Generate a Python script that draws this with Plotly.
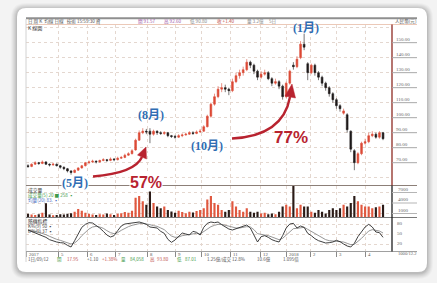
import plotly.graph_objects as go

W, H = 437, 283

# ---------------- data ----------------
opens = [68, 67.5, 69, 70, 69.5, 70.5, 69, 68.5, 69, 68,
         67, 66, 64.5, 63.5, 65, 66.5, 68, 70, 70.5, 71,
         70.5, 71.5, 72, 71.5, 72.5, 72, 73, 73.5, 75, 76,
         78.5, 85, 90, 91, 91, 89, 91, 90, 89.5, 90,
         88, 87.5, 87, 88, 88.5, 89, 90, 89.5, 90.5, 91,
         94, 101, 109, 114, 119, 120, 119, 118, 124, 128,
         130, 132, 137, 135, 131, 127, 129, 130, 126, 123,
         124, 121, 114, 123, 135, 134, 140, 149, 136, 130,
         135, 130, 127, 123, 120, 116, 112, 108, 103, 102,
         91, 78, 70, 76, 83, 84, 88, 89, 87, 90]
closes = [67.5, 69, 70, 69.5, 70.5, 69, 68.5, 69, 68, 67,
          66, 64.5, 63.5, 65, 66.5, 68, 70, 70.5, 71, 70.5,
          71.5, 72, 71.5, 72.5, 72, 73, 73.5, 75, 76, 78,
          85, 90, 91, 90.5, 89, 91, 90, 89.5, 90, 88,
          87.5, 87, 88, 88.5, 89, 90, 89.5, 90.5, 91, 94,
          101, 109, 114, 119, 120, 119, 118, 124, 128, 130,
          132, 137, 135, 131, 127, 129, 130, 126, 123, 124,
          121, 114, 123, 131, 134, 139, 149, 147, 130, 135,
          130, 127, 123, 120, 116, 112, 108, 106, 104.5, 92,
          79, 70, 76, 83, 84, 88, 89, 87, 90, 86]
highs = [69, 69.5, 71, 70.5, 71.5, 71, 69.5, 70, 69.5, 68.5,
         67.5, 66.5, 65, 65.5, 67, 68.5, 70.5, 71.5, 72, 71.5,
         72, 73, 72.5, 73.5, 73, 74, 74.5, 76, 77, 79,
         86, 91.5, 93, 92.5, 93, 92, 91.5, 91, 91, 90.5,
         88.5, 88.5, 89, 89.5, 90, 91, 91, 91.5, 92.5, 95,
         102, 110, 116, 121, 123, 122, 120, 126, 130, 132,
         134, 139, 138, 136, 132, 131, 132, 131, 127, 126,
         125, 122, 124, 132, 137, 141, 151, 156, 137, 136,
         136, 131, 128, 124, 121, 117, 113, 109, 106, 103,
         91.5, 79, 77, 84, 86, 90, 91, 90, 91, 90.5]
lows = [66.5, 67, 68.5, 68.5, 69, 68.5, 67.5, 68, 67.5, 66,
        65, 63.5, 62, 63, 64.5, 66, 67.5, 69, 70, 69.5,
        70, 71, 70.5, 71, 71, 71.5, 72.5, 73, 74.5, 75.5,
        78, 84.5, 89, 89, 83, 88, 88.5, 88.5, 88.5, 87,
        86.5, 86, 86.5, 87, 88, 88.5, 88.5, 89, 90, 90.5,
        93.5, 100, 108, 113, 117, 117, 115, 117, 123, 126,
        128, 131, 133, 129, 125, 126, 128, 125, 121, 122,
        119, 112, 113, 122, 132, 133, 139, 145, 125, 129,
        128, 125, 121, 118, 114, 110, 106, 104, 102, 90,
        77, 65, 69, 75, 82, 83, 87, 86, 86, 85]
volumes = [900, 700, 600, 800, 1200, 3900, 700, 500, 600, 800,
           700, 900, 1100, 1500, 2300, 1800, 1200, 900, 700, 600,
           800, 700, 1000, 800, 600, 900, 1100, 1400, 1200, 1800,
           5500, 6000, 4500, 3500, 9500, 4000, 3000, 2500, 3000, 2000,
           1600, 1200, 1800, 1400, 1100, 1500, 1300, 1700, 2000, 2500,
           5000, 6000, 4000, 3500, 2000, 1500, 2000, 4500, 3000, 2000,
           1500, 2500, 1500, 1200, 1500, 1000, 1200, 800, 1000, 800,
           1500, 3000, 3500, 3000, 9500, 2500, 3500, 3000, 3000, 1500,
           1200, 2000, 1500, 1000, 2000, 2500, 2000, 2500, 3500, 3000,
           4000, 6000, 4500, 3500, 3000, 3000, 2500, 2800, 3000, 3500]
k_vals = [62, 58, 54, 49, 45, 40, 33, 29, 26, 24,
          23, 16, 11, 30, 50, 70, 79, 84, 83, 76,
          68, 58, 47, 41, 45, 60, 74, 80, 82, 84,
          86, 86, 83, 79, 71, 70, 68, 58, 52, 34,
          25, 32, 44, 53, 50, 47, 58, 55, 47, 70,
          82, 86, 84, 86, 78, 71, 65, 62, 66, 68,
          73, 77, 68, 48, 26, 42, 45, 40, 33, 29,
          26, 45, 68, 80, 82, 68, 74, 70, 52, 45,
          36, 30, 26, 23, 24, 26, 31, 27, 20, 14,
          11, 22, 42, 58, 71, 79, 71, 56, 54, 40]
d_vals = [60, 60, 58, 55, 52, 48, 43, 38, 34, 31,
          28, 24, 20, 23, 32, 45, 56, 65, 71, 73,
          71, 67, 60, 54, 51, 54, 61, 67, 72, 76,
          79, 81, 82, 81, 78, 75, 73, 68, 63, 53,
          44, 40, 41, 45, 47, 47, 51, 52, 50, 57,
          65, 72, 76, 79, 79, 76, 72, 69, 68, 68,
          70, 72, 71, 63, 51, 48, 47, 45, 41, 37,
          33, 37, 47, 58, 66, 67, 69, 70, 64, 58,
          51, 44, 38, 33, 30, 29, 30, 29, 26, 22,
          18, 19, 27, 37, 48, 59, 63, 61, 59, 53]
month_pos = [-0.3, 8.4, 16.7, 24.5, 33.2, 41.0, 48.5, 56.6, 64.7, 72.2, 78.9, 85.9, 94.0]
month_labels = ["2017", "5", "6", "7", "8", "9", "10", "11", "12", "2018", "2", "3", "4"]
price_grid = [60, 70, 80, 90, 100, 110, 120, 130, 140, 150, 160]
price_labels = [70, 80, 90, 100, 110, 120, 130, 140, 150]
vol_labels = [1000, 4000, 7000]
kd_labels = [20, 50, 80]

idx = list(range(len(closes)))

# ---------------- helpers ----------------
def X(p):
    return p / W

def Y(p):
    return 1 - p / H

def P(x, y):
    return f"{X(x):.5f},{Y(y):.5f}"

def rrect(x0, y0, x1, y1, r):
    return (f"M{P(x0 + r, y0)} L{P(x1 - r, y0)} Q{P(x1, y0)} {P(x1, y0 + r)} "
            f"L{P(x1, y1 - r)} Q{P(x1, y1)} {P(x1 - r, y1)} L{P(x0 + r, y1)} "
            f"Q{P(x0, y1)} {P(x0, y1 - r)} L{P(x0, y0 + r)} Q{P(x0, y0)} {P(x0 + r, y0)} Z")

UP = "#dc4a36"
DOWN = "#1e1a1a"
GRID = "#e4d7cf"
RED = "#b8232f"
BLUE = "#2f6db3"
CJK = "Noto Sans CJK TC, sans-serif"
SERIF = "Liberation Serif, Noto Sans CJK TC, serif"

fig = go.Figure()

fig.add_trace(go.Candlestick(
    x=idx, open=opens, high=highs, low=lows, close=closes,
    increasing=dict(line=dict(color=UP, width=0.6), fillcolor=UP),
    decreasing=dict(line=dict(color=DOWN, width=0.6), fillcolor=DOWN),
    whiskerwidth=0, xaxis="x", yaxis="y", showlegend=False, hoverinfo="skip"))

vol_colors = ["#e0583f" if c >= o else "#2b1b17" for o, c in zip(opens, closes)]
fig.add_trace(go.Bar(x=idx, y=volumes, width=0.6,
                     marker=dict(color=vol_colors, line=dict(width=0)),
                     xaxis="x2", yaxis="y2", showlegend=False, hoverinfo="skip"))

fig.add_trace(go.Scatter(x=idx, y=d_vals, mode="lines",
                         line=dict(color="#8a8a8a", width=0.9),
                         xaxis="x3", yaxis="y3", showlegend=False, hoverinfo="skip"))
fig.add_trace(go.Scatter(x=idx, y=k_vals, mode="lines",
                         line=dict(color="#2a2a2a", width=0.9),
                         xaxis="x3", yaxis="y3", showlegend=False, hoverinfo="skip"))

xdom = [X(26), X(392)]
xr = [-0.56, 101.5]
xcommon = dict(domain=xdom, range=xr, tickvals=month_pos, showticklabels=False,
               showgrid=True, gridcolor=GRID, griddash="dot", gridwidth=1,
               zeroline=False, showline=False, fixedrange=True)

fig.update_layout(
    width=W, height=H, autosize=False,
    margin=dict(l=0, r=0, t=0, b=0),
    paper_bgcolor="#f3f3f3", plot_bgcolor="rgba(0,0,0,0)",
    showlegend=False,
    xaxis=dict(**xcommon, anchor="y", ticks="", rangeslider=dict(visible=False)),
    xaxis2=dict(**xcommon, anchor="y2", ticks=""),
    xaxis3=dict(**xcommon, anchor="y3", ticks="outside", ticklen=5,
                tickcolor="#8a8a8a", tickwidth=1),
    yaxis=dict(domain=[Y(185), Y(24.5)], range=[55.13, 162.1], tickvals=price_grid,
               showticklabels=False, showgrid=True, gridcolor=GRID, griddash="dot",
               zeroline=False, ticks="", fixedrange=True),
    yaxis2=dict(domain=[Y(217.5), Y(186)], range=[-140, 8860], tickvals=vol_labels,
                showticklabels=False, showgrid=True, gridcolor=GRID, griddash="dot",
                zeroline=False, ticks="", fixedrange=True),
    yaxis3=dict(domain=[Y(251), Y(219)], range=[-1, 95], tickvals=kd_labels,
                showticklabels=False, showgrid=True, gridcolor=GRID, griddash="dot",
                zeroline=False, ticks="", fixedrange=True),
)

shapes = []
# card shadow + card
for k, a in [(6, 0.025), (5, 0.03), (4, 0.035), (3, 0.04), (2, 0.05), (1, 0.06)]:
    shapes.append(dict(type="path", path=rrect(17 - k, 8 - k + 1, 427 + k, 272 + k + 1, 9 + k),
                       xref="paper", yref="paper", fillcolor=f"rgba(0,0,0,{a})",
                       line=dict(width=0), layer="below"))
shapes.append(dict(type="path", path=rrect(17, 8, 427, 272, 9), xref="paper", yref="paper",
                   fillcolor="#ffffff", line=dict(width=0), layer="below"))

def hline(y, x0, x1, color, width=1):
    shapes.append(dict(type="line", xref="paper", yref="paper", x0=X(x0), x1=X(x1),
                       y0=Y(y), y1=Y(y), line=dict(color=color, width=width)))

def vline(x, y0, y1, color, width=1):
    shapes.append(dict(type="line", xref="paper", yref="paper", x0=X(x), x1=X(x),
                       y0=Y(y0), y1=Y(y1), line=dict(color=color, width=width)))

# header band and frame
shapes.append(dict(type="rect", xref="paper", yref="paper", x0=X(26), x1=X(417),
                   y0=Y(19.3), y1=Y(17.2), fillcolor="#8f8f8f", line=dict(width=0)))
hline(24.5, 26, 417, "#ecc9b8", 1)
vline(26, 19, 262, "#d2d2d2", 1)
hline(185.5, 26, 417, "#8c7f78", 1.2)
hline(217.5, 26, 417, "#7a7a7a", 1.2)
hline(251.5, 26, 417, "#a0a0a0", 1)
vline(392, 24.5, 185.5, "#8e2b22", 1.3)
vline(392, 185.5, 251.5, "#202020", 1.3)

# right-column underlines
for v in price_labels:
    shapes.append(dict(type="line", xref="paper", yref="y", x0=X(392), x1=X(417),
                       y0=v, y1=v, line=dict(color="#a9a9a9", width=1)))
for v in vol_labels:
    shapes.append(dict(type="line", xref="paper", yref="y2", x0=X(392), x1=X(417),
                       y0=v, y1=v, line=dict(color="#b5b5b5", width=1)))

# curved arrows
shapes.append(dict(type="path", xref="paper", yref="paper",
                   path=f"M{P(93, 176.5)} Q{P(135, 173)} {P(142, 157)}",
                   line=dict(color=RED, width=2.4)))
shapes.append(dict(type="path", xref="paper", yref="paper",
                   path=f"M{P(146, 147)} L{P(146.5, 159)} L{P(137.5, 155)} Z",
                   fillcolor=RED, line=dict(color=RED, width=0.5)))
shapes.append(dict(type="path", xref="paper", yref="paper",
                   path=f"M{P(232, 138.5)} Q{P(283, 136)} {P(290, 97)}",
                   line=dict(color=RED, width=2.4)))
shapes.append(dict(type="path", xref="paper", yref="paper",
                   path=f"M{P(292, 84)} L{P(295.5, 98)} L{P(285, 96)} Z",
                   fillcolor=RED, line=dict(color=RED, width=0.5)))

fig.update_layout(shapes=shapes)

ann = []

def txt(x, y, s, size=5, color="#444", xanchor="left", yanchor="middle",
        family=CJK, bg=None, xref="paper", yref="paper", xshift=0):
    d = dict(x=x if xref != "paper" else X(x), y=y if yref != "paper" else Y(y),
             xref=xref, yref=yref, text=s, showarrow=False, xanchor=xanchor,
             yanchor=yanchor, font=dict(size=size, color=color, family=family),
             xshift=xshift, borderpad=0)
    if bg:
        d["bgcolor"] = bg
    ann.append(d)

# header row
txt(27, 21.5, "日 周 K  均線 日線   技術 15:59:30 資", 4.6, "#555")
txt(137, 21.5, "開 91.57", 4.6, "#a05aa8")
txt(163, 21.5, "高 92.60", 4.6, "#a05aa8")
txt(189, 21.5, "低 90.80", 4.6, "#888")
txt(216, 21.5, "收 +1.40", 4.6, "#c0504d")
txt(246, 21.5, "量 3.2億", 4.6, "#888")
txt(268, 21.5, "5日", 4.6, "#888")
txt(394, 21.5, "人民幣(元)", 4.6, "#555")
txt(27, 27.5, "K 線圖", 5, "#333")

# price labels
for v in price_labels:
    txt(395, v, f"{v:.2f}", 5, "#666", yanchor="bottom", family=SERIF, yref="y")
for v in vol_labels:
    txt(397, v, f"{v}", 5, "#666", yanchor="bottom", family=SERIF, yref="y2")
for v in kd_labels:
    txt(396, v, f"{v}", 5, "#666", yanchor="middle", family=SERIF, yref="y3")
txt(397, 253, "1000/12.2", 4.6, "#666", family=SERIF)

# volume / KD headers
txt(27, 189.5, "成交量", 4.8, "#333")
txt(27, 195, "成交量(5) 20 ■ 258 ▪", 4.6, "#3f9a4a")
txt(27, 200.3, "均量(20) 83. ▪", 4.6, "#4d6fc4")
txt(27, 220.5, "隨機指標", 4.8, "#333")
txt(27, 226, "K%(9) 50 ▪", 4.6, "#444")
txt(27, 231, "D%(9) 37 ▪", 4.6, "#444")

# month labels
for p, lab in zip(month_pos, month_labels):
    txt(p, 254.5, lab, 4.8, "#555", xref="x3", xshift=1.5, family=SERIF)

# bottom info row
info = [(27, "1日/09/12", "#555"), (56, "開", "#3f9a4a"), (66, "17.95", "#c0504d"),
        (86, "+1.10", "#555"), (101, "+1.38%", "#c0504d"), (120, "量", "#3f9a4a"),
        (129, "84,058", "#3f9a4a"), (149, "高", "#c0504d"), (156, "93.80", "#c0504d"),
        (176, "低", "#3f9a4a"), (184, "87.01", "#3f9a4a"), (206, "1.25億/成交 12.8%", "#555"),
        (256, "10.6億", "#555"), (282, "1.095倍", "#555")]
for x, s, c in info:
    txt(x, 259, s, 4.5, c)

# big annotations
txt(306, 28, "<b>(1月)</b>", 12, BLUE, xanchor="center", family=SERIF)
txt(151, 115, "<b>(8月)</b>", 12, BLUE, xanchor="center", family=SERIF)
txt(207, 146, "<b>(10月)</b>", 12, BLUE, xanchor="center", family=SERIF)
txt(75, 182.5, "<b>(5月)</b>", 12, BLUE, xanchor="center", family=SERIF, bg="#ffffff")
txt(146, 182, "<b>57%</b>", 16, RED, xanchor="center", family="Liberation Sans, Arial",
    bg="#ffffff")
txt(291, 137, "<b>77%</b>", 17, RED, xanchor="center", family="Liberation Sans, Arial")

fig.update_layout(annotations=ann)

fig.write_html("out.html")
